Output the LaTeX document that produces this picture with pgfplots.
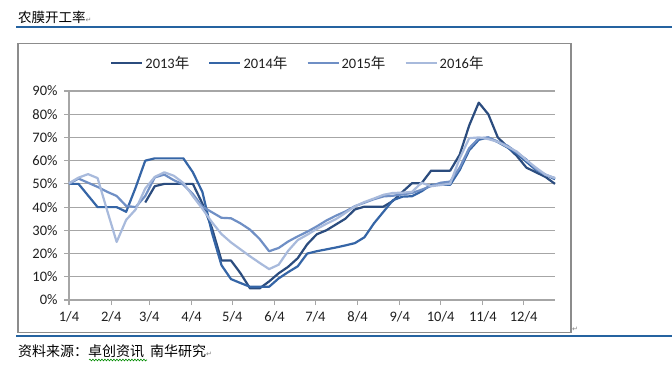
\documentclass[border=0pt]{standalone}
\usepackage{pgfplots}
\usepackage{pgfplotstable}
\pgfplotsset{compat=1.18}
\usepackage{fontspec}
\usetikzlibrary{decorations.pathmorphing}
\setmainfont{Carlito}
\newfontfamily\cjk{Noto Sans CJK SC}
\newfontfamily\sym{DejaVu Sans}
\definecolor{cA}{HTML}{2B4C7E}
\definecolor{cB}{HTML}{3565A6}
\definecolor{cC}{HTML}{6F8FC5}
\definecolor{cD}{HTML}{A8BADC}
\definecolor{wordblue}{HTML}{2563A0}
\definecolor{framegray}{HTML}{8C8C8C}
\definecolor{gridgray}{HTML}{A6A6A6}
\pgfplotstableread{
w y13 y14 y15 y16
0 nan 50 50 50.3
1 nan 50 52.3 52.7
2 nan 45 50.5 54.2
3 nan 40 48.7 52.5
4 nan 40 46.6 38.6
5 nan 40 44.8 25
6 nan 38 40.5 34.5
7 nan 48.5 40 39
8 42 60 44.8 48
9 49 61 52.8 53
10 50 61 54 55
11 50 61 51.6 53.5
12 50 61 49.7 50.4
13 50 55 45.6 44.7
14 41.5 46.5 40.2 39.3
15 31 29 37.8 33.5
16 17 15 35.4 28.4
17 17 9 35.2 24.8
18 11.5 7.3 33 21.8
19 5 5.7 30.3 18.8
20 5 5.7 26.3 16
21 8 5.7 21 13.3
22 11.5 9.3 22.4 15.2
23 14.3 12 25.2 21.2
24 18 14.5 27.4 25.8
25 24 20 29.4 28.1
26 28.3 21 31.7 30.6
27 30 21.8 34.2 32.8
28 32.5 22.6 36.3 34.8
29 35 23.5 38.1 37.5
30 39 24.5 40.4 40.3
31 40.2 27 41.9 42.2
32 40.2 33 43.4 43.7
33 40.2 38 44.6 45.3
34 42.7 43 44.9 46.1
35 46.6 44.5 45.5 46.2
36 50.3 44.7 46.1 46.6
37 50.3 46.8 47.5 50.5
38 55.7 49.6 49.1 49
39 55.7 49.6 50.5 49.5
40 55.7 49.6 51 50.1
41 62.6 56 57 61
42 75.2 64.5 65.4 69.7
43 85 69 69.7 70
44 80 70 70 69.3
45 70 68 68.2 68.1
46 66 65.7 66.5 66
47 62 63 63.5 63.9
48 57 59.5 60.5 60.2
49 55 56 56.4 57
50 53 54 53.8 54
51 50 52 52.5 52.5
}\datatable
\begin{document}
\begin{tikzpicture}[x=1pt,y=1pt]
\useasboundingbox (0,0) rectangle (672,375);
\fill[white] (0,0) rectangle (672,375);
% title
\node[anchor=west, inner sep=0] at (18,358) {\fontsize{13.5}{15}\selectfont\cjk 农膜开工率{\sym\color{gray}\fontsize{7}{7}\selectfont ↵}};
\draw[wordblue, line width=1.2] (16,348) -- (672,348);
% chart frame
\draw[framegray, line width=1.2] (18,42.3) rectangle (571,331.7);
\node[anchor=west, inner sep=0] at (572,46) {\sym\color{gray}\fontsize{7}{7}\selectfont ↵};
\draw[wordblue, line width=1.2] (16,39) -- (672,39);
% source
\node[anchor=west, inner sep=0] at (18,23.3) {\fontsize{14}{16}\selectfont\cjk 资料来源：卓创资讯\hspace{6pt}南华研究{\sym\color{gray}\fontsize{7}{7}\selectfont ↵}};
\draw[green!55!black, line width=0.6, decorate, decoration={snake, amplitude=0.9pt, segment length=3pt}] (89,15) -- (147,15);
\begin{axis}[
  at={(69pt,75pt)}, anchor=south west,
  scale only axis, width=486pt, height=209pt,
  xmin=0, xmax=51, ymin=0, ymax=90,
  axis x line*=bottom, axis y line*=left,
  axis line style={gridgray, line width=1.2pt},
  xtick={0,4.43,8.43,12.86,17.14,21.57,25.86,30.29,34.71,39,43.43,47.71},
  xticklabels={1/4,2/4,3/4,4/4,5/4,6/4,7/4,8/4,9/4,10/4,11/4,12/4},
  ytick={0,10,...,90},
  yticklabel={\pgfmathprintnumber{\tick}\%},
  /pgf/number format/assume math mode=true,
  tick align=outside, major tick length=5pt,
  tick style={gridgray, line width=1.2pt},
  ymajorgrids, grid style={gridgray, line width=1.2pt},
  ticklabel style={font=\fontsize{14.5}{16}\selectfont, text=black!88},
  xticklabel style={yshift=-2.5pt},
  yticklabel style={xshift=-3pt},
  clip=false,
  legend columns=4,
  legend style={at={(0.471,1.1325)}, anchor=center, draw=none, fill=none,
    font=\fontsize{14.5}{16}\selectfont, text=black!88,
    /tikz/every even column/.append style={column sep=17pt},
    inner sep=0pt},
  legend image code/.code={\draw[#1, line width=2.2pt] (0pt,0pt) -- (31pt,0pt);},
  every axis plot/.append style={line width=2.2pt, line join=round, mark=none},
]
\addplot[cA] table[x=w, y=y13] {\datatable};
\addlegendentry{2013{\cjk 年}}
\addplot[cB] table[x=w, y=y14] {\datatable};
\addlegendentry{2014{\cjk 年}}
\addplot[cC] table[x=w, y=y15] {\datatable};
\addlegendentry{2015{\cjk 年}}
\addplot[cD] table[x=w, y=y16] {\datatable};
\addlegendentry{2016{\cjk 年}}
\end{axis}
\end{tikzpicture}
\end{document}
